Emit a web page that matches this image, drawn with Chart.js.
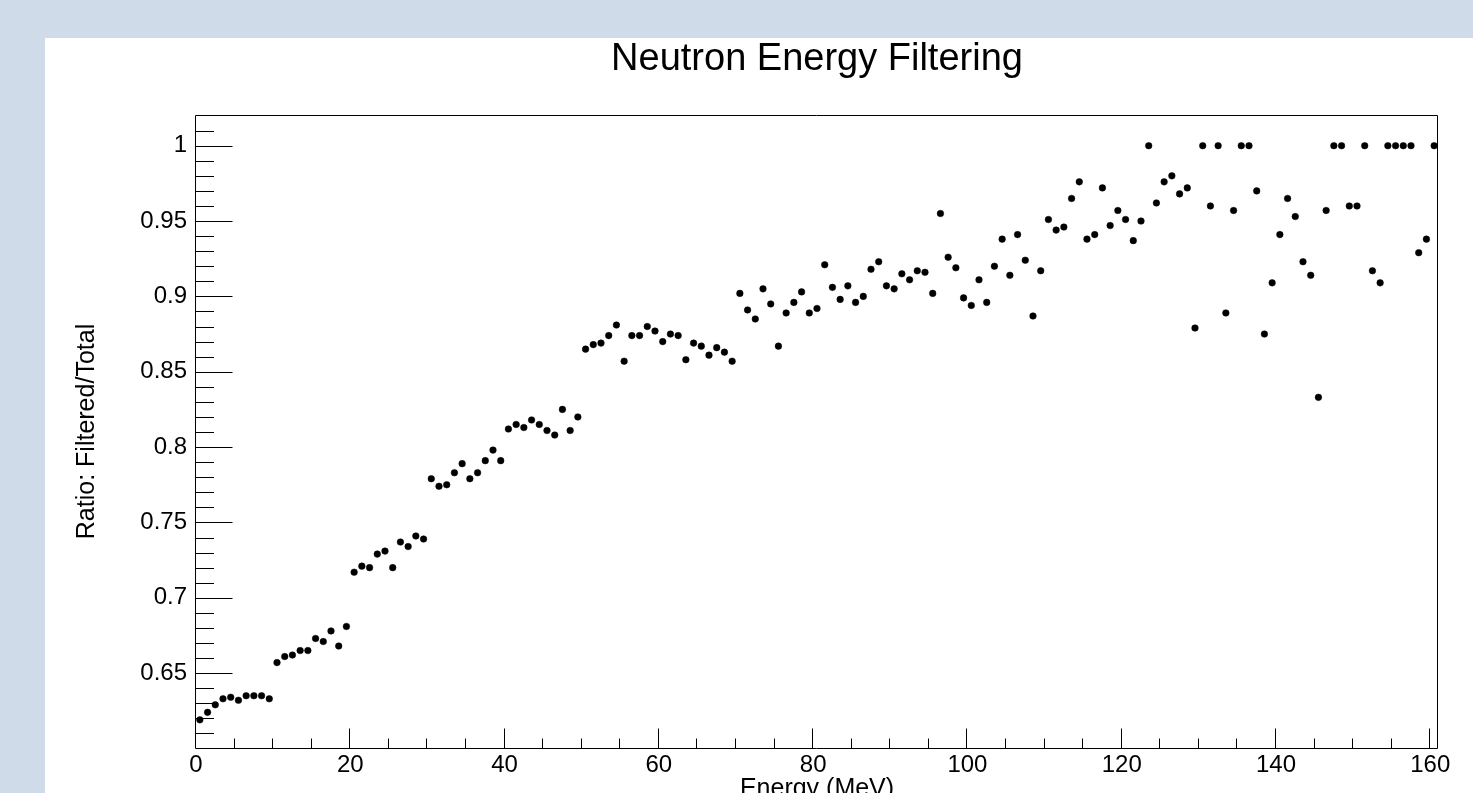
<!DOCTYPE html>
<html>
<head>
<meta charset="utf-8">
<script src="https://cdn.jsdelivr.net/npm/chart.js@4.4.1/dist/chart.umd.min.js"></script>
<style>
html,body{margin:0;padding:0;overflow:hidden;width:1473px;height:793px;background:#cfdbe9;}
#wrap{position:absolute;left:45px;top:38px;width:1428px;height:790px;background:#ffffff;}
canvas{display:block;}
</style>
</head>
<body>
<div id="wrap"><canvas id="c" width="1428" height="790"></canvas></div>
<script>
// ---- data (bin centres in MeV and measured ratio) ----
const energyMeV = [
  0.5,1.5,2.5,3.5,4.5,5.5,6.5,7.5,8.5,9.5,
  10.5,11.5,12.5,13.5,14.5,15.5,16.5,17.5,18.5,19.5,
  20.5,21.5,22.5,23.5,24.5,25.5,26.5,27.5,28.5,29.5,
  30.5,31.5,32.5,33.5,34.5,35.5,36.5,37.5,38.5,39.5,
  40.5,41.5,42.5,43.5,44.5,45.5,46.5,47.5,48.5,49.5,
  50.5,51.5,52.5,53.5,54.5,55.5,56.5,57.5,58.5,59.5,
  60.5,61.5,62.5,63.5,64.5,65.5,66.5,67.5,68.5,69.5,
  70.5,71.5,72.5,73.5,74.5,75.5,76.5,77.5,78.5,79.5,
  80.5,81.5,82.5,83.5,84.5,85.5,86.5,87.5,88.5,89.5,
  90.5,91.5,92.5,93.5,94.5,95.5,96.5,97.5,98.5,99.5,
  100.5,101.5,102.5,103.5,104.5,105.5,106.5,107.5,108.5,109.5,
  110.5,111.5,112.5,113.5,114.5,115.5,116.5,117.5,118.5,119.5,
  120.5,121.5,122.5,123.5,124.5,125.5,126.5,127.5,128.5,129.5,
  130.5,131.5,132.5,133.5,134.5,135.5,136.5,137.5,138.5,139.5,
  140.5,141.5,142.5,143.5,144.5,145.5,146.5,147.5,148.5,149.5,
  150.5,151.5,152.5,153.5,154.5,155.5,156.5,157.5,158.5,159.5,
  160.5
];
const filteredRatio = [
  0.619,0.624,0.629,0.633,0.634,0.632,0.635,0.635,0.635,0.633,
  0.657,0.661,0.662,0.665,0.665,0.673,0.671,0.678,0.668,0.681,
  0.717,0.721,0.720,0.729,0.731,0.720,0.737,0.734,0.741,0.739,
  0.779,0.774,0.775,0.783,0.789,0.779,0.783,0.791,0.798,0.791,
  0.812,0.815,0.813,0.818,0.815,0.811,0.808,0.825,0.811,0.820,
  0.865,0.868,0.869,0.874,0.881,0.857,0.874,0.874,0.880,0.877,
  0.870,0.875,0.874,0.858,0.869,0.867,0.861,0.866,0.863,0.857,
  0.902,0.891,0.885,0.905,0.895,0.867,0.889,0.896,0.903,0.889,
  0.892,0.921,0.906,0.898,0.907,0.896,0.900,0.918,0.923,0.907,
  0.905,0.915,0.911,0.917,0.916,0.902,0.955,0.926,0.919,0.899,
  0.894,0.911,0.896,0.920,0.938,0.914,0.941,0.924,0.887,0.917,
  0.951,0.944,0.946,0.965,0.976,0.938,0.941,0.972,0.947,0.957,
  0.951,0.937,0.950,1.000,0.962,0.976,0.980,0.968,0.972,0.879,
  1.000,0.960,1.000,0.889,0.957,1.000,1.000,0.970,0.875,0.909,
  0.941,0.965,0.953,0.923,0.914,0.833,0.957,1.000,1.000,0.960,
  0.960,1.000,0.917,0.909,1.000,1.000,1.000,1.000,0.929,0.938,
  1.000
];
const xTickValues = [0,20,40,60,80,100,120,140,160];
const xTickLabels = ['0','20','40','60','80','100','120','140','160'];
const yTickValues = [0.65,0.7,0.75,0.8,0.85,0.9,0.95,1.0];
const yTickLabels = ['0.65','0.7','0.75','0.8','0.85','0.9','0.95','1'];
const xMinorStep = 5;
const yMinorStep = 0.01;

const FONT = "'Liberation Sans', Arial, Helvetica, sans-serif";

const rootAxes = {
  id: 'rootAxes',
  afterDatasetsDraw(chart) {
    const {ctx, chartArea: ca, scales: {x, y}} = chart;
    ctx.save();
    ctx.strokeStyle = '#000';
    ctx.lineWidth = 1;
    const L = Math.round(ca.left) - 0.5, R = Math.round(ca.right) - 0.5;
    const T = Math.round(ca.top) + 0.5, B = Math.round(ca.bottom) - 0.5;
    ctx.beginPath();
    ctx.rect(L, T, R - L, B - T);
    ctx.stroke();
    ctx.beginPath();
    // y ticks (minor + major), inward from the left axis
    for (let k = 0; ; k++) {
      const v = Math.round((y.min + k * yMinorStep) * 1000) / 1000;
      if (v > y.max) break;
      if (v <= y.min) continue;
      const isMajor = yTickValues.some(t => Math.abs(t - v) < 1e-6);
      const py = Math.round(y.getPixelForValue(v)) + 0.5;
      if (py - T < 3 || B - py < 3) continue;
      ctx.moveTo(L, py);
      ctx.lineTo(L + (isMajor ? 37 : 18.5), py);
    }
    // x ticks (minor + major), upward from the bottom axis
    for (let v = x.min; v <= x.max; v += xMinorStep) {
      if (v <= x.min) continue;
      const isMajor = xTickValues.includes(v);
      const px = Math.round(x.getPixelForValue(v)) - 0.5;
      ctx.moveTo(px, B);
      ctx.lineTo(px, B - (isMajor ? 20 : 10));
    }
    ctx.stroke();
    ctx.restore();
  }
};

new Chart(document.getElementById('c').getContext('2d'), {
  type: 'scatter',
  data: {
    datasets: [{
      label: 'Ratio',
      data: energyMeV.map((e, i) => ({x: e, y: filteredRatio[i]})),
      pointRadius: 3.3,
      pointBackgroundColor: '#000',
      pointBorderColor: '#000',
      pointBorderWidth: 0.5,
      showLine: false
    }]
  },
  options: {
    responsive: false,
    animation: false,
    events: [],
    layout: {padding: {left: 0, right: 35, top: 0, bottom: 0}},
    plugins: {
      legend: {display: false},
      tooltip: {enabled: false},
      title: {
        display: true,
        text: 'Neutron Energy Filtering',
        fullSize: false,
        color: '#000',
        font: {family: FONT, size: 38, weight: 'normal', lineHeight: 1.0},
        padding: {top: 2.5, bottom: 36}
      }
    },
    scales: {
      x: {
        type: 'linear',
        min: 0, max: 161,
        grid: {display: false, drawTicks: false},
        border: {display: false},
        afterBuildTicks: s => { s.ticks = xTickValues.map(v => ({value: v})); },
        afterFit: s => { s.height = 79.5; },
        ticks: {
          color: '#000',
          padding: 2,
          maxRotation: 0,
          autoSkip: false,
          font: {family: FONT, size: 24},
          callback: v => xTickLabels[xTickValues.indexOf(v)]
        },
        title: {
          display: true,
          text: 'Energy (MeV)',
          color: '#000',
          font: {family: FONT, size: 25},
          padding: {top: 0, bottom: 24}
        }
      },
      y: {
        type: 'linear',
        min: 0.6, max: 1.0207,
        grid: {display: false, drawTicks: false},
        border: {display: false},
        afterBuildTicks: s => { s.ticks = yTickValues.map(v => ({value: v})); },
        afterFit: s => { s.width = 151; },
        ticks: {
          color: '#000',
          padding: 9,
          autoSkip: false,
          font: {family: FONT, size: 24},
          callback: v => yTickLabels[yTickValues.findIndex(t => Math.abs(t - v) < 1e-9)]
        },
        title: {
          display: true,
          text: 'Ratio: Filtered/Total',
          color: '#000',
          font: {family: FONT, size: 25},
          padding: {top: 27.5, bottom: 0}
        }
      }
    }
  },
  plugins: [rootAxes]
});
</script>
</body>
</html>
